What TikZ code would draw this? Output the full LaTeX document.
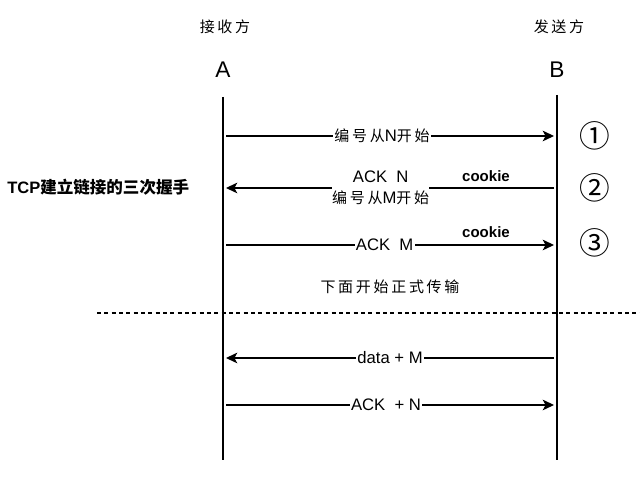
\documentclass[tikz,border=0pt]{standalone}
\usepackage{fontspec}
\setmainfont{Liberation Sans}
\newfontfamily\cjk[LetterSpace=18,Scale=0.9]{Noto Sans CJK SC}
\newfontfamily\cjkb{Noto Sans CJK SC}
\usetikzlibrary{arrows.meta}
\begin{document}
\begin{tikzpicture}[x=0.75pt,y=-0.75pt,
  lbl/.style={font=\fontsize{12.5pt}{15pt}\selectfont, inner sep=1pt},
  onarrow/.style={lbl, fill=white},
  msg/.style={line width=0.8pt, -{Stealth[length=8.5pt,width=8pt,inset=2.2pt]}},
  life/.style={line width=1pt},
  party/.style={font=\fontsize{17pt}{20pt}\selectfont, inner sep=0pt},
  ckie/.style={font=\bfseries\fontsize{11.25pt}{14pt}\selectfont, inner sep=0pt},
  circ/.style={font=\cjkb\fontsize{23pt}{25pt}\selectfont, inner sep=0pt}]
\useasboundingbox (0,0) rectangle (640,484);
% headers
\node[lbl] (ha) at (225,27) {\cjk 接收方};
\node[lbl] (hb) at (559,27) {\cjk 发送方};
\node[party] (A) at (223,70) {A};
\node[party] (B) at (557,70) {B};
% lifelines
\coordinate (At) at (223,97);
\coordinate (Ab) at (223,460);
\coordinate (Bt) at (557,95);
\coordinate (Bb) at (557,460);
\draw[life] (At) -- (Ab);
\draw[life] (Bt) -- (Bb);
% message endpoints
\coordinate (a1) at (226,136); \coordinate (b1) at (554,136);
\coordinate (a2) at (226,188); \coordinate (b2) at (554,188);
\coordinate (a3) at (226,245); \coordinate (b3) at (554,245);
\coordinate (a4) at (226,358); \coordinate (b4) at (554,358);
\coordinate (a5) at (226,405); \coordinate (b5) at (554,405);
\draw[msg] (a1) -- node[onarrow,xshift=-6] (m1) {{\cjk 编号从}N{\cjk 开始}} (b1);
\draw[msg] (b2) -- node[onarrow,align=center,xshift=-7,inner sep=0pt] (m2) {ACK\ \ N\\[1pt]{\cjk 编号从}M{\cjk 开始}} (a2);
\draw[msg] (a3) -- node[onarrow,xshift=-4] (m3) {ACK\ \ M} (b3);
\draw[msg] (b4) -- node[onarrow] (m4) {data + M} (a4);
\draw[msg] (a5) -- node[onarrow,xshift=-3] (m5) {ACK\ \ + N} (b5);
% cookies
\node[ckie] (c2) at (486,176) {cookie};
\node[ckie] (c3) at (486,232) {cookie};
% circled numbers
\node[circ] (n1) at (595,136) {①};
\node[circ] (n2) at (595,188) {②};
\node[circ] (n3) at (595,243) {③};
% side label
\node[lbl, font=\bfseries\fontsize{12.4pt}{15pt}\selectfont, anchor=west, inner sep=0pt] (tcp) at (7,187) {TCP{\cjkb\bfseries 建立链接的三次握手}};
% transmission label
\node[lbl] (tx) at (390,287) {\cjk 下面开始正式传输};
% dashed separator
\coordinate (d0) at (97,313);
\coordinate (d1) at (640,313);
\draw[line width=0.8pt, dash pattern=on 3pt off 2.5pt] (d0) -- (d1);
\end{tikzpicture}
\end{document}
